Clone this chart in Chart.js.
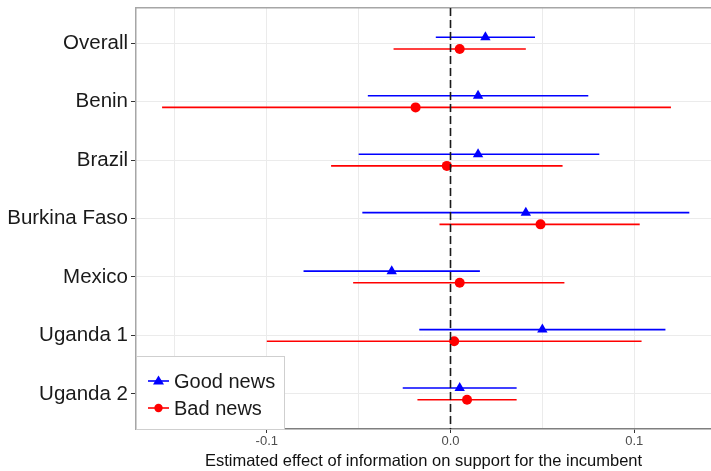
<!DOCTYPE html>
<html>
<head>
<meta charset="utf-8">
<script src="https://cdn.jsdelivr.net/npm/chart.js@4/dist/chart.umd.min.js"></script>
<style>
  html, body { margin: 0; padding: 0; background: #fff; }
  #wrap { width: 711px; height: 471px; position: relative; }
</style>
</head>
<body>
<div id="wrap"><canvas id="chart"></canvas></div>
<script>
// estimates and 95% intervals
const categories = ["Overall", "Benin", "Brazil", "Burkina Faso", "Mexico", "Uganda 1", "Uganda 2"];
const goodEst = [0.019, 0.015, 0.015, 0.041, -0.032, 0.050, 0.005];
const goodLo = [-0.008, -0.045, -0.050, -0.048, -0.080, -0.017, -0.026];
const goodHi = [0.046, 0.075, 0.081, 0.130, 0.016, 0.117, 0.036];
const badEst = [0.005, -0.019, -0.002, 0.049, 0.005, 0.002, 0.009];
const badLo = [-0.031, -0.157, -0.065, -0.006, -0.053, -0.100, -0.018];
const badHi = [0.041, 0.120, 0.061, 0.103, 0.062, 0.104, 0.036];
const xTicks = [-0.15, -0.1, -0.05, 0, 0.05, 0.1];
const majorTicks = [-0.1, 0, 0.1];

const BLUE = "#0000ff";
const RED = "#ff0000";
const OFF = 0.1; // vertical dodge between the two series
const FONT = "'Liberation Sans', Arial, sans-serif";

const isMajor = (v) => majorTicks.some((m) => Math.abs(m - v) < 1e-9);

// one short line dataset per interval
function barSets(lo, hi, shift, color) {
  return categories.map((c, i) => ({
    type: "line",
    label: "_bar",
    data: [
      { x: lo[i], y: i + shift },
      { x: hi[i], y: i + shift },
    ],
    borderColor: color,
    borderWidth: 1.6,
    pointRadius: 0,
    showLine: true,
    order: 3,
  }));
}

const zeroLine = {
  type: "line",
  label: "_zero",
  data: [
    { x: 0, y: -0.6 },
    { x: 0, y: 6.6 },
  ],
  borderColor: "#1a1a1a",
  borderWidth: 1.6,
  borderDash: [8, 4],
  pointRadius: 0,
  showLine: true,
  order: 0,
};

const goodPts = {
  type: "scatter",
  label: "Good news",
  data: goodEst.map((v, i) => ({ x: v, y: i - OFF })),
  pointStyle: "triangle",
  pointRadius: 6,
  backgroundColor: BLUE,
  borderColor: BLUE,
  borderWidth: 0,
  order: 1,
};

const badPts = {
  type: "scatter",
  label: "Bad news",
  data: badEst.map((v, i) => ({ x: v, y: i + OFF })),
  pointStyle: "circle",
  pointRadius: 5,
  backgroundColor: RED,
  borderColor: RED,
  borderWidth: 0,
  order: 1,
};

// ggplot-style legend box in the lower-left corner of the panel
const boxLegend = {
  id: "boxLegend",
  afterDraw(chart) {
    const { ctx, chartArea } = chart;
    const x0 = chartArea.left;
    const y1 = chartArea.bottom;
    const w = 148, h = 73;
    ctx.save();
    ctx.fillStyle = "#fff";
    ctx.strokeStyle = "#cfcfcf";
    ctx.lineWidth = 1;
    ctx.fillRect(x0, y1 - h, w, h);
    ctx.strokeRect(x0 + 0.5, y1 - h + 0.5, w, h);

    const items = [
      { text: "Good news", color: BLUE, shape: "tri", y: y1 - 48 },
      { text: "Bad news", color: RED, shape: "dot", y: y1 - 21 },
    ];
    items.forEach((it) => {
      ctx.strokeStyle = it.color;
      ctx.lineWidth = 1.6;
      ctx.beginPath();
      ctx.moveTo(x0 + 12, it.y);
      ctx.lineTo(x0 + 33, it.y);
      ctx.stroke();
      ctx.fillStyle = it.color;
      ctx.beginPath();
      const cx = x0 + 22.5;
      if (it.shape === "tri") {
        ctx.moveTo(cx, it.y - 5.5);
        ctx.lineTo(cx + 5.5, it.y + 3.5);
        ctx.lineTo(cx - 5.5, it.y + 3.5);
        ctx.closePath();
      } else {
        ctx.arc(cx, it.y, 4.2, 0, Math.PI * 2);
      }
      ctx.fill();
      ctx.fillStyle = "#1a1a1a";
      ctx.font = "20px " + FONT;
      ctx.textBaseline = "middle";
      ctx.textAlign = "left";
      ctx.fillText(it.text, x0 + 38, it.y + 1);
    });
    ctx.restore();
  },
};

const ctx = document.getElementById("chart").getContext("2d");
new Chart(ctx, {
  type: "scatter",
  data: {
    datasets: [
      ...barSets(goodLo, goodHi, -OFF, BLUE),
      ...barSets(badLo, badHi, OFF, RED),
      goodPts,
      badPts,
      zeroLine,
    ],
  },
  options: {
    responsive: true,
    maintainAspectRatio: false,
    animation: false,
    layout: { autoPadding: false, padding: { left: 0, right: 0, top: 0, bottom: 0 } },
    scales: {
      x: {
        type: "linear",
        position: "bottom",
        min: -0.1712,
        max: 0.1418,
        afterBuildTicks: (s) => {
          s.ticks = xTicks.map((v) => ({ value: v }));
        },
        afterFit: (s) => {
          s.height = 42;
          s.paddingLeft = 0;
          s.paddingRight = 0;
        },
        ticks: {
          color: "#4d4d4d",
          font: { family: FONT, size: 13 },
          padding: 1,
          maxRotation: 0,
          autoSkip: false,
          callback: (v) => (isMajor(v) ? v.toFixed(1) : ""),
        },
        grid: {
          color: "#ebebeb",
          lineWidth: 1,
          tickLength: 4,
          tickColor: (c) => (c.tick && isMajor(c.tick.value) ? "#333" : "rgba(0,0,0,0)"),
        },
        border: { display: true, color: "#7f7f7f", width: 1.5 },
        title: {
          display: true,
          text: "Estimated effect of information on support for the incumbent",
          color: "#111",
          font: { family: FONT, size: 16.5 },
          padding: { top: 0, bottom: 0 },
        },
      },
      x2: {
        type: "linear",
        position: "top",
        display: true,
        min: -0.1712,
        max: 0.1418,
        afterFit: (s) => {
          s.height = 8;
          s.paddingLeft = 0;
          s.paddingRight = 0;
        },
        ticks: { display: false },
        grid: { display: false, drawTicks: false },
        border: { display: true, color: "#a6a6a6", width: 1.5 },
      },
      y: {
        type: "linear",
        reverse: true,
        min: -0.6,
        max: 6.6,
        afterBuildTicks: (s) => {
          s.ticks = categories.map((c, i) => ({ value: i }));
        },
        afterFit: (s) => {
          s.width = 136;
          s.paddingTop = 0;
          s.paddingBottom = 0;
        },
        ticks: {
          color: "#1a1a1a",
          font: { family: FONT, size: 20.5 },
          padding: 3,
          autoSkip: false,
          callback: (v) => categories[v] ?? "",
        },
        grid: { color: "#ebebeb", lineWidth: 1, tickLength: 5, tickColor: "#333" },
        border: { display: true, color: "#a6a6a6", width: 1.5 },
      },
    },
    plugins: {
      legend: { display: false },
      tooltip: { enabled: false },
    },
  },
  plugins: [boxLegend],
});
</script>
</body>
</html>
